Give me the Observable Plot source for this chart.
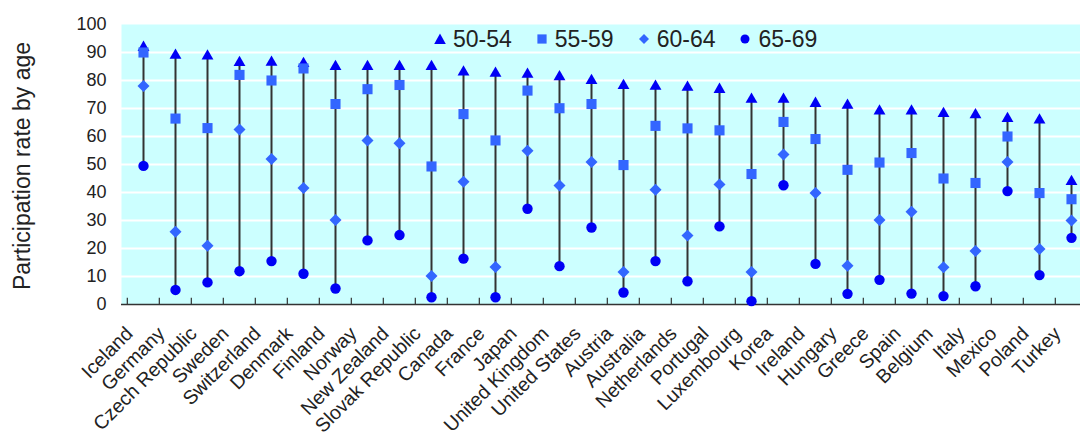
<!DOCTYPE html>
<html>
<head>
<meta charset="utf-8">
<script src="https://cdn.jsdelivr.net/npm/d3@7"></script>
<script src="https://cdn.jsdelivr.net/npm/@observablehq/plot@0.6"></script>
<style>
  html, body { margin: 0; padding: 0; background: #fff; }
  #wrap { position: relative; width: 1080px; height: 432px; overflow: hidden; font-family: "Liberation Sans", Arial, sans-serif; color: #222; }
  #ytitle { position: absolute; left: 22px; top: 166px; transform: translate(-50%, -50%) rotate(-90deg); white-space: nowrap; font-size: 23px; }
  #legend { position: absolute; left: 434px; top: 27px; display: flex; align-items: center; font-size: 23px; line-height: 24px; }
  #legend .item { display: flex; align-items: center; margin-right: 24px; }
  #legend svg { width: 12px; height: 12px; margin-right: 7px; }
</style>
</head>
<body>
<div id="wrap"></div>
<script>
const countries = ["Iceland","Germany","Czech Republic","Sweden","Switzerland","Denmark","Finland","Norway","New Zealand","Slovak Republic","Canada","France","Japan","United Kingdom","United States","Austria","Australia","Netherlands","Portugal","Luxembourg","Korea","Ireland","Hungary","Greece","Spain","Belgium","Italy","Mexico","Poland","Turkey"];
const age5054 = [91.8, 89, 88.7, 86.4, 86.5, 86, 85, 85, 85, 85, 83, 82.6, 82.2, 81.3, 80, 78.2, 77.9, 77.6, 76.8, 73.3, 73.3, 71.8, 71.1, 69.1, 69.1, 68.2, 67.7, 66.4, 65.9, 43.9];
const age5559 = [90, 66.4, 63, 82, 80, 84.3, 71.6, 76.9, 78.4, 49.3, 68, 58.6, 76.4, 70.1, 71.6, 49.8, 63.8, 62.9, 62.2, 46.6, 65.2, 59.1, 48.1, 50.7, 54.1, 45, 43.4, 60, 39.8, 37.6];
const age6064 = [78, 26, 21, 62.5, 52, 41.6, 30.2, 58.6, 57.6, 10.2, 43.8, 13.4, 54.9, 42.5, 50.9, 11.6, 41, 24.6, 42.9, 11.6, 53.6, 39.8, 13.8, 30.2, 33.1, 13.3, 19.1, 50.9, 19.8, 30];
const age6569 = [49.5, 5.2, 7.9, 11.9, 15.5, 11, 5.7, 22.9, 24.8, 2.6, 16.4, 2.6, 34.2, 13.7, 27.5, 4.3, 15.5, 8.3, 27.9, 1.2, 42.6, 14.5, 3.8, 8.8, 3.9, 3, 6.5, 40.5, 10.5, 23.8];
const yTicks = [0, 10, 20, 30, 40, 50, 60, 70, 80, 90, 100];
const seriesNames = ["50-54", "55-59", "60-64", "65-69"];

const dark = "#0000f5";
const light = "#3366ff";

const data = countries.map((c, i) => ({country: c, a5054: age5054[i], a5559: age5559[i], a6064: age6064[i], a6569: age6569[i]}));

const xRange = [121, 1092];
const bw = (xRange[1] - xRange[0]) / countries.length;

const chart = Plot.plot({
  width: 1080,
  height: 432,
  marginLeft: 121,
  marginRight: 0,
  marginTop: 24,
  marginBottom: 128,
  style: {fontFamily: "Liberation Sans, Arial, sans-serif", color: "#222", background: "transparent", overflow: "visible"},
  x: {type: "band", domain: countries, range: xRange, padding: 0, axis: null},
  y: {domain: [0, 100]},
  marks: [
    Plot.frame({fill: "#ccffff", stroke: null}),
    Plot.ruleY(yTicks.filter(t => t > 0 && t < 100), {stroke: "#ffffff", strokeWidth: 1.8}),
    Plot.ruleY([0], {stroke: "#333", strokeWidth: 1.5}),
    Plot.ruleX(countries, {x: d => d, dx: -bw / 2, y1: 0, y2: 2.2, stroke: "#333", strokeWidth: 1.2}),
    Plot.ruleX(data, {x: "country", y1: "a6569", y2: "a5054", stroke: "#333", strokeWidth: 2}),
    Plot.dot(data, {x: "country", y: "a5054", symbol: "triangle", r: 4.4, fill: dark, stroke: null}),
    Plot.dot(data, {x: "country", y: "a5559", symbol: "square", r: 5.7, fill: light, stroke: null}),
    Plot.dot(data, {x: "country", y: "a6064", symbol: "diamond2", r: 5.4, fill: light, stroke: null}),
    Plot.dot(data, {x: "country", y: "a6569", symbol: "circle", r: 5.2, fill: dark, stroke: null}),
    Plot.axisY({ticks: yTicks, tickSize: 0, tickPadding: 15, fontSize: 18, label: null}),
    Plot.text(countries, {x: d => d, y: 0, text: d => d, rotate: -45, textAnchor: "end", lineAnchor: "middle", dx: -14, dy: 26, fontSize: 19.5, fill: "#222"})
  ]
});

const wrap = document.getElementById("wrap");
wrap.appendChild(chart);

const title = document.createElement("div");
title.id = "ytitle";
title.textContent = "Participation rate by age";
wrap.appendChild(title);

const symbols = [
  `<polygon points="6,0.5 11.8,11 0.2,11" fill="${dark}"/>`,
  `<rect x="1.4" y="1.4" width="9.2" height="9.2" fill="${light}"/>`,
  `<polygon points="6,1 11,6 6,11 1,6" fill="${light}"/>`,
  `<circle cx="6" cy="6" r="4.5" fill="${dark}"/>`
];
const legend = document.createElement("div");
legend.id = "legend";
legend.innerHTML = seriesNames.map((n, i) =>
  `<div class="item"><svg viewBox="0 0 12 12">${symbols[i]}</svg><span>${n}</span></div>`).join("");
wrap.appendChild(legend);
</script>
</body>
</html>
